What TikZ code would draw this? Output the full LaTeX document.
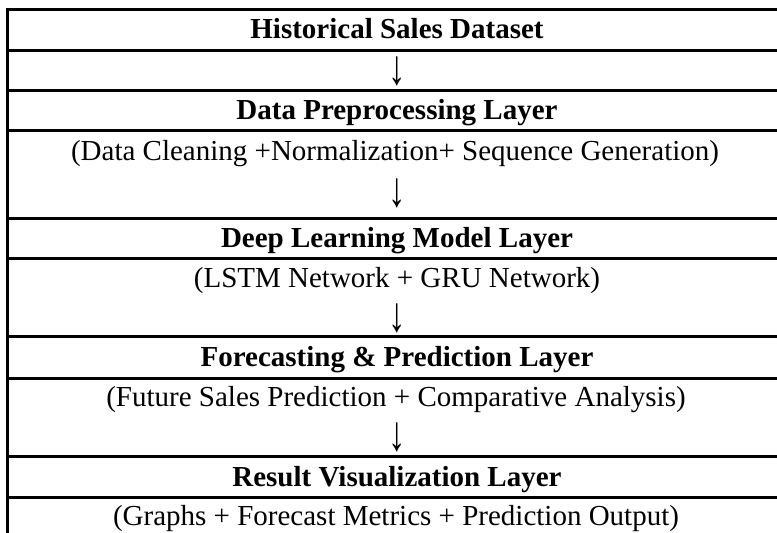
\documentclass[tikz,border=0pt]{standalone}
\usepackage{fontspec}
\setmainfont{Liberation Serif}
\newcommand\arbox{\scalebox{1.2}[1.7]{↓}}
\begin{document}
\begin{tikzpicture}[x=1pt,y=1pt,
  rule/.style={line width=3pt},
  txt/.style={inner sep=0pt, anchor=base, font=\fontsize{29}{34}\selectfont},
  head/.style={txt, font=\fontsize{29}{34}\selectfont\bfseries},
  arr/.style={txt, anchor=center}]
\useasboundingbox (0,0) rectangle (777,-533);
% frame and row rules
\draw[rule] (777,-9.5) -- (7.5,-9.5) -- (7.5,-533);
\foreach \yy in {50,90,130,218,258,336.5,378,456,497}
  \draw[rule] (7.5,-\yy) -- (777,-\yy);
% texts
\node[head] (h1) at (397,-38) {Historical Sales Dataset};
\node[arr]  (a1) at (397,-71) {\arbox};
\node[head] (h2) at (397,-119) {Data Preprocessing Layer};
\node[txt]  (s2) at (395,-160) {(Data Cleaning +Normalization+ Sequence Generation)};
\node[arr]  (a2) at (397,-193) {\arbox};
\node[head] (h3) at (397,-247) {Deep Learning Model Layer};
\node[txt]  (s3) at (397,-287) {(LSTM Network + GRU Network)};
\node[arr]  (a3) at (397,-318) {\arbox};
\node[head] (h4) at (397,-366) {Forecasting \& Prediction Layer};
\node[txt]  (s4) at (396,-406) {(Future Sales Prediction + Comparative Analysis)};
\node[arr]  (a4) at (397,-437) {\arbox};
\node[head] (h5) at (397,-486) {Result Visualization Layer};
\node[txt]  (s5) at (396,-525) {(Graphs + Forecast Metrics + Prediction Output)};
\end{tikzpicture}
\end{document}
